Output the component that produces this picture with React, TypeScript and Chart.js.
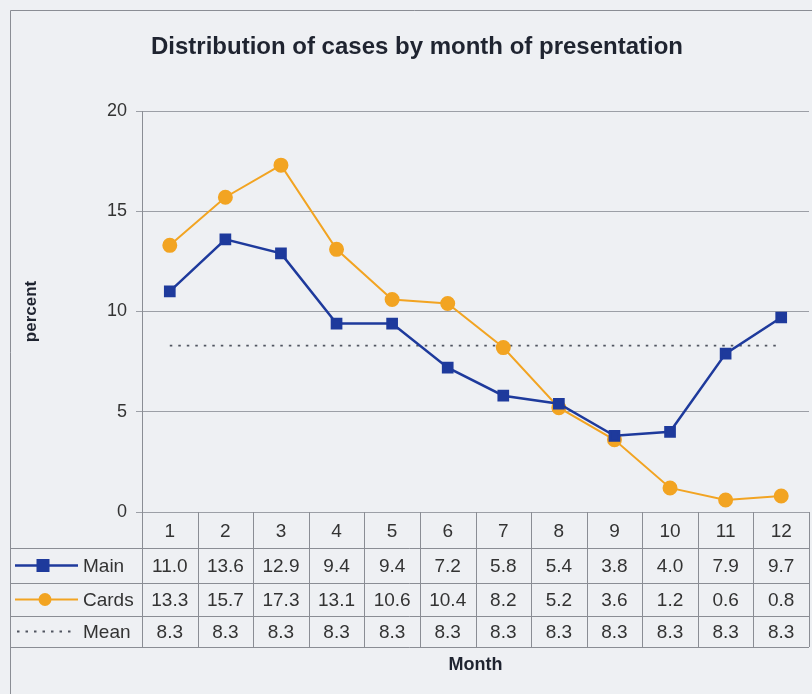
import React, { useEffect, useRef } from "react";
import { Chart, registerables } from "chart.js";

Chart.register(...registerables);

const months = ["1", "2", "3", "4", "5", "6", "7", "8", "9", "10", "11", "12"];
const mainValues = [11.0, 13.6, 12.9, 9.4, 9.4, 7.2, 5.8, 5.4, 3.8, 4.0, 7.9, 9.7];
const cardsValues = [13.3, 15.7, 17.3, 13.1, 10.6, 10.4, 8.2, 5.2, 3.6, 1.2, 0.6, 0.8];
const meanValues = [8.3, 8.3, 8.3, 8.3, 8.3, 8.3, 8.3, 8.3, 8.3, 8.3, 8.3, 8.3];
const seriesNames = ["Main", "Cards", "Mean"];
const yMin = 0;
const yMax = 20;
const yStep = 5;
const titleText = "Distribution of cases by month of presentation";
const yTitle = "percent";
const xTitle = "Month";

const BLUE = "#1e3a9c";
const ORANGE = "#f2a422";
const TEXT = "#333333";
const GRID = "#9c9fa6";
const FONT = "'Liberation Sans', Arial, sans-serif";
const CANVAS_W = 818;
const CANVAS_H = 694;

const tablePlugin = {
  id: "tablePlugin",
  beforeDraw(chart: any) {
    const { ctx } = chart;
    ctx.save();
    ctx.fillStyle = "#eef0f3";
    ctx.fillRect(0, 0, chart.width, chart.height);
    ctx.strokeStyle = "#8a8d94";
    ctx.lineWidth = 1;
    ctx.beginPath();
    ctx.moveTo(10.5, chart.height);
    ctx.lineTo(10.5, 10.5);
    ctx.lineTo(chart.width, 10.5);
    ctx.stroke();
    ctx.restore();
  },
  afterDraw(chart: any) {
    const { ctx, chartArea } = chart;
    const xs = chart.scales.x;
    const ds = chart.data.datasets;
    const n = chart.data.labels.length;
    const half = (xs.getPixelForValue(1) - xs.getPixelForValue(0)) / 2;
    const top = chartArea.bottom;
    const rowEdges = [top, top + 36, top + 71, top + 104, top + 135];
    const left = 10.5;
    ctx.save();
    ctx.strokeStyle = "#8a8d94";
    ctx.lineWidth = 1;
    ctx.beginPath();
    for (let r = 1; r < rowEdges.length; r++) {
      const y = Math.round(rowEdges[r]) + 0.5;
      ctx.moveTo(left, y);
      ctx.lineTo(xs.getPixelForValue(n - 1) + half, y);
    }
    const axisX = Math.round(chartArea.left) + 0.5;
    ctx.moveTo(axisX, chartArea.top);
    ctx.lineTo(axisX, rowEdges[4]);
    ctx.moveTo(left, rowEdges[1]);
    ctx.lineTo(left, rowEdges[4]);
    for (let i = 0; i < n; i++) {
      const x = Math.round(xs.getPixelForValue(i) + half) + 0.5;
      ctx.moveTo(x, top);
      ctx.lineTo(x, rowEdges[4]);
    }
    ctx.stroke();

    ctx.fillStyle = TEXT;
    ctx.font = `19px ${FONT}`;
    ctx.textAlign = "center";
    ctx.textBaseline = "middle";
    for (let r = 0; r < ds.length; r++) {
      const yc = (rowEdges[r + 1] + rowEdges[r + 2]) / 2 + 1;
      for (let i = 0; i < n; i++) {
        ctx.fillText(ds[r].data[i].toFixed(1), xs.getPixelForValue(i), yc);
      }
      ctx.textAlign = "left";
      ctx.fillText(seriesNames[r], 83, yc);
      ctx.textAlign = "center";
      ctx.save();
      ctx.strokeStyle = ds[r].borderColor;
      ctx.lineWidth = ds[r].borderWidth;
      ctx.setLineDash(ds[r].borderDash || []);
      ctx.beginPath();
      ctx.moveTo(r === 2 ? 17 : 15, yc - 1);
      ctx.lineTo(r === 2 ? 76 : 78, yc - 1);
      ctx.stroke();
      ctx.setLineDash([]);
      ctx.fillStyle = ds[r].pointBackgroundColor;
      if (r === 0) {
        ctx.fillRect(43 - 6.5, yc - 1 - 6.5, 13, 13);
      } else if (r === 1) {
        ctx.beginPath();
        ctx.arc(45, yc - 1, 6.5, 0, Math.PI * 2);
        ctx.fill();
      }
      ctx.restore();
    }

    ctx.fillStyle = "#1f2430";
    ctx.font = `bold 24px ${FONT}`;
    ctx.textAlign = "center";
    ctx.textBaseline = "middle";
    ctx.fillText(titleText, 417, 47);

    ctx.font = `bold 18px ${FONT}`;
    ctx.fillText(xTitle, (chartArea.left + xs.getPixelForValue(n - 1) + half) / 2, 665);

    ctx.save();
    ctx.translate(31, (chartArea.top + chartArea.bottom) / 2);
    ctx.rotate(-Math.PI / 2);
    ctx.font = `bold 17px ${FONT}`;
    ctx.fillText(yTitle, 0, 0);
    ctx.restore();
    ctx.restore();
  },
};

export default function App() {
  const ref = useRef<HTMLCanvasElement>(null);
  useEffect(() => {
    if (!ref.current) return;
    const chart = new Chart(ref.current, {
      type: "line",
      data: {
        labels: months,
        datasets: [
          {
            label: seriesNames[0],
            data: mainValues,
            borderColor: BLUE,
            backgroundColor: BLUE,
            pointBackgroundColor: BLUE,
            pointBorderColor: BLUE,
            pointStyle: "rect",
            pointRadius: 6.5,
            borderWidth: 2.5,
            tension: 0,
          },
          {
            label: seriesNames[1],
            data: cardsValues,
            borderColor: ORANGE,
            backgroundColor: ORANGE,
            pointBackgroundColor: ORANGE,
            pointBorderColor: ORANGE,
            pointStyle: "circle",
            pointRadius: 6.5,
            borderWidth: 2,
            tension: 0,
          },
          {
            label: seriesNames[2],
            data: meanValues,
            borderColor: "#505560",
            backgroundColor: "#505560",
            pointBackgroundColor: "#505560",
            pointRadius: 0,
            borderWidth: 1.8,
            borderDash: [2.5, 6],
            tension: 0,
          },
        ],
      },
      options: {
        animation: false,
        responsive: false,
        layout: { padding: { top: 111, right: 0, bottom: 146, left: 0 } },
        plugins: {
          legend: { display: false },
          title: { display: false },
          tooltip: { enabled: false },
        },
        scales: {
          x: {
            offset: true,
            grid: { display: false, drawTicks: false },
            border: { display: false },
            ticks: {
              color: TEXT,
              font: { size: 19, family: FONT },
              padding: 8,
              maxRotation: 0,
            },
            afterFit(scale: any) {
              scale.height = 36;
              scale.paddingLeft = 0;
              scale.paddingRight = 0;
            },
          },
          y: {
            min: yMin,
            max: yMax,
            grid: { color: GRID, lineWidth: 1, tickLength: 6, drawTicks: true },
            border: { display: true, color: "#8a8d94" },
            ticks: {
              stepSize: yStep,
              color: TEXT,
              font: { size: 18, family: FONT },
              padding: 9,
            },
            afterFit(scale: any) {
              scale.width = 142;
              scale.paddingTop = 0;
              scale.paddingBottom = 0;
            },
          },
        },
      },
      plugins: [tablePlugin],
    });
    return () => chart.destroy();
  }, []);
  return (
    <div
      style={{
        position: "absolute",
        left: 0,
        top: 0,
        width: 812,
        height: 694,
        overflow: "hidden",
        background: "#eef0f3",
      }}
    >
      <canvas
        ref={ref}
        width={CANVAS_W}
        height={CANVAS_H}
        style={{ width: CANVAS_W, height: CANVAS_H, display: "block" }}
      />
    </div>
  );
}
